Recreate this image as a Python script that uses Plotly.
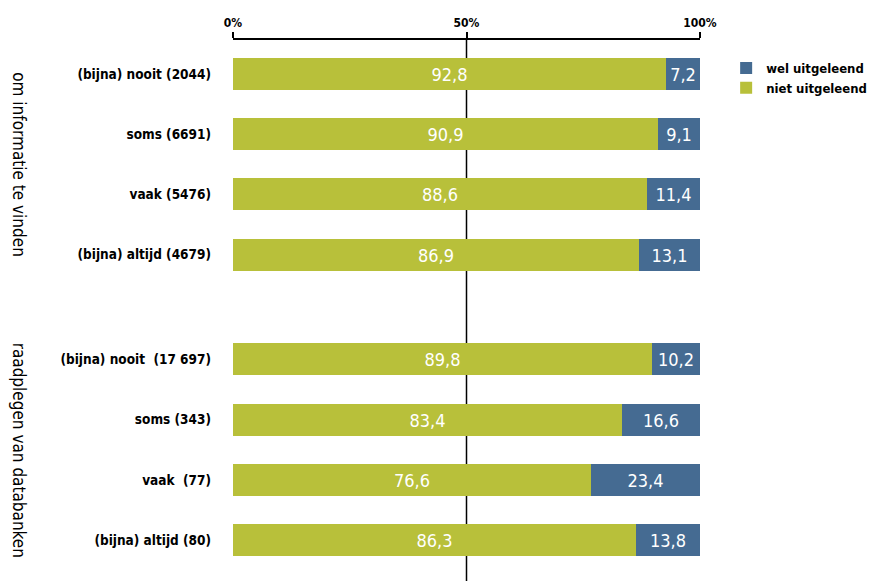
import plotly.graph_objects as go

groups = ["om informatie te vinden", "raadplegen van databanken"]
categories = [
    ["(bijna) nooit (2044)", "soms (6691)", "vaak (5476)", "(bijna) altijd (4679)"],
    ["(bijna) nooit  (17 697)", "soms (343)", "vaak  (77)", "(bijna) altijd (80)"],
]
niet = [[92.8, 90.9, 88.6, 86.9], [89.8, 83.4, 76.6, 86.3]]
wel = [[7.2, 9.1, 11.4, 13.1], [10.2, 16.6, 23.4, 13.8]]
x_ticks = [0, 50, 100]
x_ticklabels = ["0%", "50%", "100%"]

GREEN = "#b8c03a"
BLUE = "#456b92"
FONT = "DejaVu Sans Condensed, Liberation Sans Narrow, sans-serif"
GAP = 1.74

ypos, labels, nv, wv = [], [], [], []
for g in range(len(groups)):
    for i, c in enumerate(categories[g]):
        ypos.append(g * (len(categories[g]) - 1 + GAP) + i)
        labels.append(c)
        nv.append(niet[g][i])
        wv.append(wel[g][i])

def fmt(v):
    return f"{v:.1f}".replace(".", ",")

fig = go.Figure()
fig.add_trace(go.Bar(
    y=ypos, x=nv, orientation="h", name="niet uitgeleend",
    marker=dict(color=GREEN, line=dict(width=0)), width=0.53,
    text=[fmt(v) for v in nv], textposition="inside", insidetextanchor="middle",
    textfont=dict(color="white", size=18, family=FONT),
))
fig.add_trace(go.Bar(
    y=ypos, x=wv, orientation="h", name="wel uitgeleend",
    marker=dict(color=BLUE, line=dict(width=0)), width=0.53,
    text=[fmt(v) for v in wv], textposition="inside", insidetextanchor="middle",
    textfont=dict(color="white", size=18, family=FONT),
))

fig.add_shape(type="line", xref="x", yref="paper", x0=50, x1=50, y0=0, y1=1,
              line=dict(color="black", width=1.5), layer="below")

for g, name in enumerate(groups):
    ys = ypos[g * 4:(g + 1) * 4]
    fig.add_annotation(text=name, xref="paper", yref="y", x=-0.458, y=(ys[0] + ys[-1]) / 2,
                       textangle=90, showarrow=False, xanchor="center", yanchor="middle",
                       font=dict(size=17, family=FONT, color="black"))

fig.update_layout(
    width=868, height=573,
    margin=dict(l=225, r=176, t=32, b=0, autoexpand=False),
    barmode="stack", bargap=0,
    plot_bgcolor="white", paper_bgcolor="white",
    font=dict(family=FONT, color="black"),
    showlegend=True,
    legend=dict(x=1.056, y=0.976, xanchor="left", yanchor="top", traceorder="reversed",
                font=dict(size=13, family=FONT, color="black", weight="bold"),
                itemwidth=30, tracegroupgap=0, bgcolor="rgba(0,0,0,0)"),
    xaxis=dict(range=[0, 100], side="top", tickvals=x_ticks, ticktext=x_ticklabels,
               showgrid=False, zeroline=False, showline=True, linecolor="black", linewidth=2,
               ticks="outside", ticklen=6, tickwidth=2, tickcolor="black", automargin=False,
               tickfont=dict(size=12, family=FONT, weight="bold")),
    yaxis=dict(range=[8.42, -0.565], tickvals=ypos, ticktext=labels, showgrid=False,
               zeroline=False, showline=False, ticks="", ticklabelstandoff=21, automargin=False,
               tickfont=dict(size=13.5, family=FONT, weight="bold")),
)

fig.write_html("out.html")
